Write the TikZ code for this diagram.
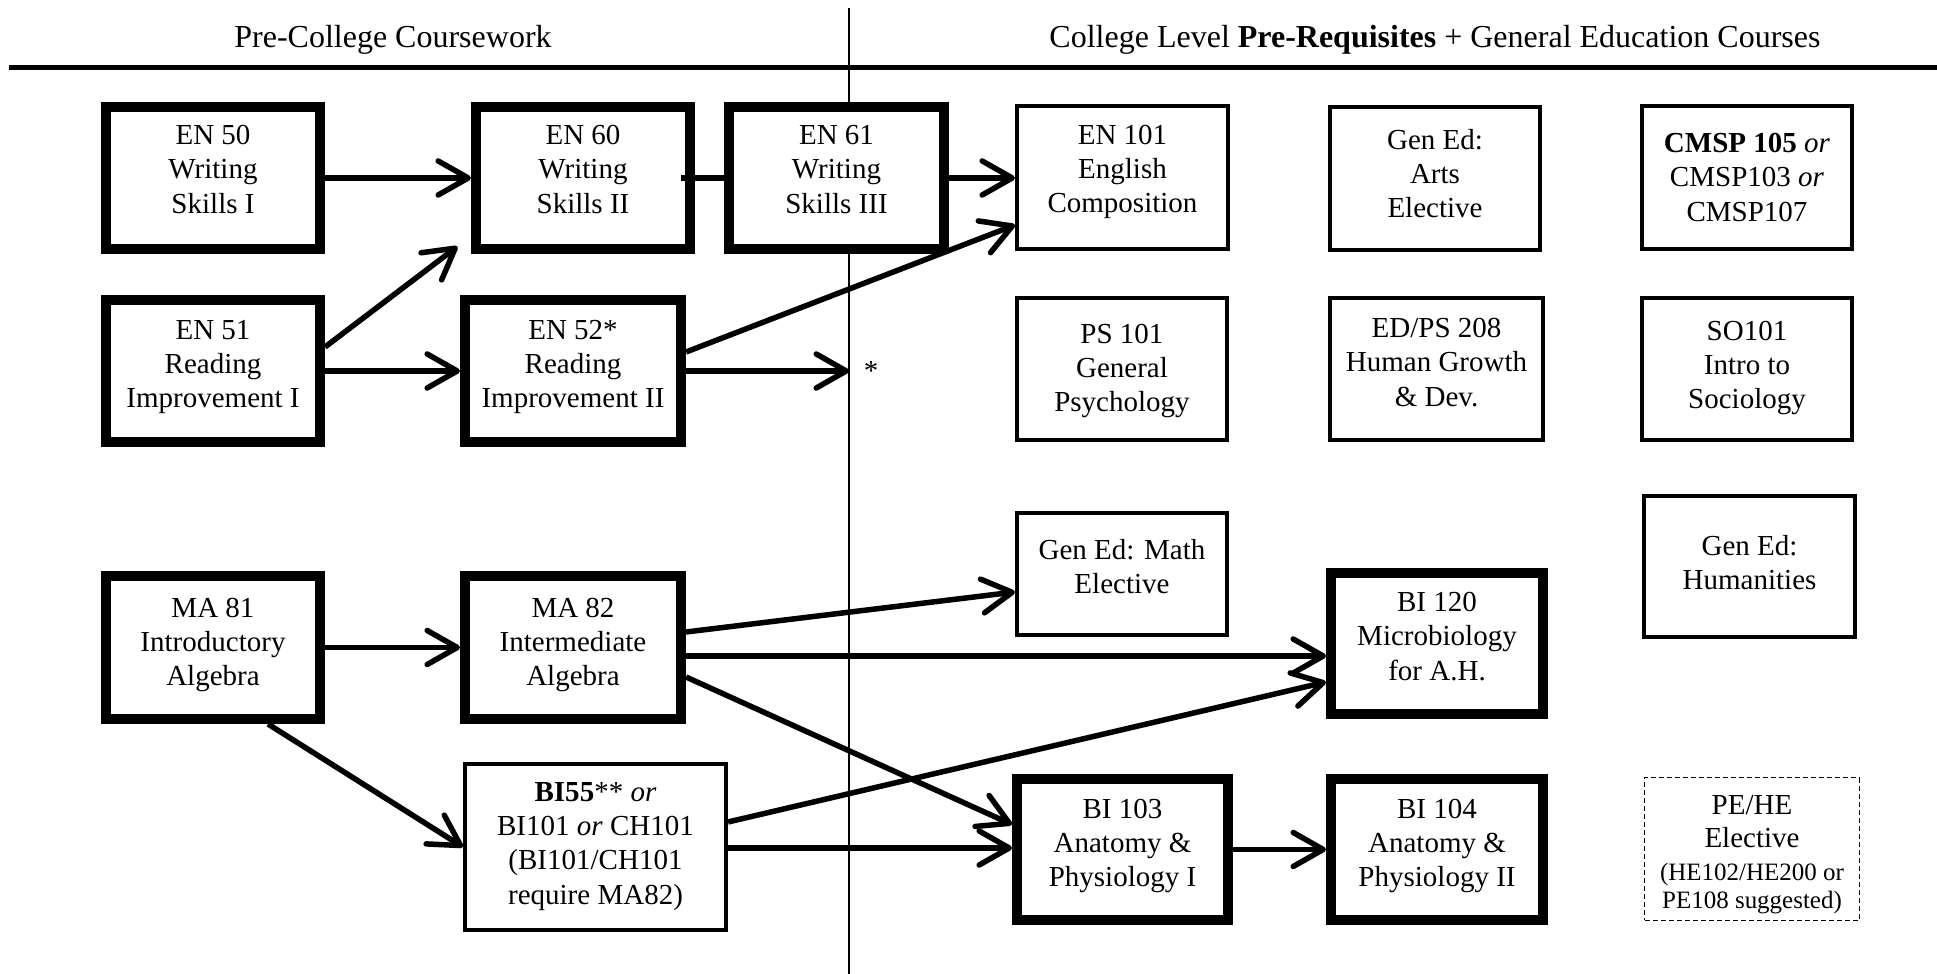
\documentclass[tikz,border=0pt]{standalone}
\usepackage{fontspec}
\setmainfont{Liberation Serif}
\usetikzlibrary{arrows.meta}
\newcommand{\bxfont}{\fontsize{8.25pt}{9.7pt}\selectfont}
\newcommand{\pefont}{\fontsize{8.25pt}{9.4pt}\selectfont}
\newcommand{\hdfont}{\fontsize{9.1pt}{11pt}\selectfont}
\newcommand{\smfont}{\fontsize{7.1pt}{8.2pt}\selectfont}
\begin{document}
\begin{tikzpicture}[x=0.01cm, y=-0.01cm,
  base/.style={fill=white, inner sep=0pt},
  thickbox/.style={base, draw, line width=0.1cm},
  thinbox/.style={base, draw, line width=0.04cm},
  dashbox/.style={base, draw, line width=0.015cm, dash pattern=on 0.05cm off 0.03cm},
  txt/.style={inner sep=0pt, align=center, font=\bxfont},
  arr/.style={line width=0.055cm, -{Straight Barb[length=0.3cm, width=0.34cm, round]}},
  conn/.style={line width=0.055cm},
  hdr/.style={font=\hdfont, inner sep=0pt}]
\useasboundingbox (0,0) rectangle (1937,974);
% rules
\draw[line width=0.05cm] (9,68) -- (1937,68);
\draw[line width=0.02cm] (849,8) -- (849,974);
% headers
\node[hdr] (hleft) at (393,40) {Pre-College Coursework};
\node[hdr] (hright) at (1435,40) {College Level \textbf{Pre-Requisites} + General Education Courses};
% pre-college boxes
\node[thickbox, minimum width=2.14cm, minimum height=1.42cm] (EN50) at (213,178) {};
\node[txt] (EN50t) at (213,169.5) {EN 50\\Writing\\Skills I};
\node[thickbox, minimum width=2.14cm, minimum height=1.42cm] (EN60) at (583,178) {};
\node[txt] (EN60t) at (583,169.5) {EN 60\\Writing\\Skills II};
\node[thickbox, minimum width=2.15cm, minimum height=1.42cm] (EN61) at (836.5,178) {};
\node[txt] (EN61t) at (836.5,169.5) {EN 61\\Writing\\Skills III};
\node[thickbox, minimum width=2.14cm, minimum height=1.42cm] (EN51) at (213,371) {};
\node[txt] (EN51t) at (213,366.7) {EN 51\\Reading\\Improvement I};
\node[thickbox, minimum width=2.16cm, minimum height=1.42cm] (EN52) at (573,371) {};
\node[txt] (EN52t) at (573,366.7) {EN 52*\\Reading\\Improvement II};
\node[thickbox, minimum width=2.14cm, minimum height=1.43cm] (MA81) at (213,647.5) {};
\node[txt] (MA81t) at (213,644.7) {MA 81\\Introductory\\Algebra};
\node[thickbox, minimum width=2.16cm, minimum height=1.43cm] (MA82) at (573,647.5) {};
\node[txt] (MA82t) at (573,644.7) {MA 82\\Intermediate\\Algebra};
\node[thinbox, minimum width=2.61cm, minimum height=1.66cm] (BI55) at (595.5,847) {};
\node[txt] (BI55t) at (595.5,846.5) {\textbf{BI55}** \textit{or}\\BI101 \textit{or} CH101\\(BI101/CH101\\require MA82)};
% college boxes
\node[thinbox, minimum width=2.11cm, minimum height=1.43cm] (EN101) at (1122.5,177.5) {};
\node[txt] (EN101t) at (1122.5,171.7) {EN 101\\English\\Composition};
\node[thinbox, minimum width=2.10cm, minimum height=1.43cm] (ARTS) at (1435,178.5) {};
\node[txt] (ARTSt) at (1435,173.5) {Gen Ed:\\Arts\\Elective};
\node[thinbox, minimum width=2.10cm, minimum height=1.43cm] (CMSP) at (1747,177.5) {};
\node[txt] (CMSPt) at (1747,177.5) {\textbf{CMSP 105} \textit{or}\\CMSP103 \textit{or}\\CMSP107};
\node[thinbox, minimum width=2.10cm, minimum height=1.42cm] (PS101) at (1122,369) {};
\node[txt] (PS101t) at (1122,370.7) {PS 101\\General\\Psychology};
\node[thinbox, minimum width=2.13cm, minimum height=1.42cm] (EDPS) at (1436.5,369) {};
\node[txt] (EDPSt) at (1436.5,362.5) {ED/PS 208\\Human Growth\\\& Dev.};
\node[thinbox, minimum width=2.10cm, minimum height=1.42cm] (SO101) at (1747,369) {};
\node[txt] (SO101t) at (1747,367.7) {SO101\\Intro to\\Sociology};
\node[thinbox, minimum width=2.10cm, minimum height=1.22cm] (MATH) at (1122,574) {};
\node[txt] (MATHt) at (1122,567) {Gen Ed: Math\\Elective};
\node[thinbox, minimum width=2.11cm, minimum height=1.41cm] (HUM) at (1749.5,566.5) {};
\node[txt] (HUMt) at (1749.5,563) {Gen Ed:\\Humanities};
\node[thickbox, minimum width=2.12cm, minimum height=1.41cm] (BI120) at (1437,643.5) {};
\node[txt] (BI120t) at (1437,636.5) {BI 120\\Microbiology\\for A.H.};
\node[thickbox, minimum width=2.11cm, minimum height=1.41cm] (BI103) at (1122.5,849.5) {};
\node[txt] (BI103t) at (1122.5,845.7) {BI 103\\Anatomy \&\\Physiology I};
\node[thickbox, minimum width=2.12cm, minimum height=1.41cm] (BI104) at (1437,849.5) {};
\node[txt] (BI104t) at (1437,845.7) {BI 104\\Anatomy \&\\Physiology II};
\node[dashbox, minimum width=2.145cm, minimum height=1.425cm] (PEHE) at (1752,849) {};
\node[txt, font=\pefont] (PEHEt) at (1752,855) {PE/HE\\Elective\\{\smfont (HE102/HE200 or}\\[-0.05cm]{\smfont PE108 suggested)}};
% star marker
\coordinate (starpt) at (849,371);
\node[font=\bxfont, inner sep=0pt] (star) at (871,371) {*};
% connectors
\draw[arr] (EN50) -- (EN60);
\draw[conn] ([xshift=-0.14cm]EN60.east) -- (EN61.west);
\draw[arr] (EN61.east) -- (EN61.east -| EN101.west);
\draw[arr] ([yshift=0.24cm]EN51.east) -- ([xshift=-0.135cm, yshift=0.075cm]EN60.south west);
\draw[arr] (EN51) -- (EN52);
\draw[arr] ([yshift=0.19cm]EN52.east) -- ([yshift=-0.475cm]EN101.west);
\draw[arr] (EN52.east) -- (starpt);
\draw[arr] (MA81) -- (MA82);
\draw[arr] ([xshift=0.55cm]MA81.south) -- (BI55.west);
\draw[arr] ([yshift=0.155cm]MA82.east) -- ([yshift=-0.18cm]MATH.west);
\draw[arr] ([yshift=-0.085cm]MA82.east) -- ([yshift=-0.085cm]MA82.east -| BI120.west);
\draw[arr] ([yshift=-0.295cm]MA82.east) -- ([yshift=0.25cm]BI103.west);
\draw[arr] ([yshift=0.25cm]BI55.east) -- ([yshift=-0.385cm]BI120.west);
\draw[arr] ([yshift=-0.01cm]BI55.east) -- ([yshift=-0.01cm]BI55.east -| BI103.west);
\draw[arr] (BI103) -- (BI104);
\end{tikzpicture}
\end{document}
